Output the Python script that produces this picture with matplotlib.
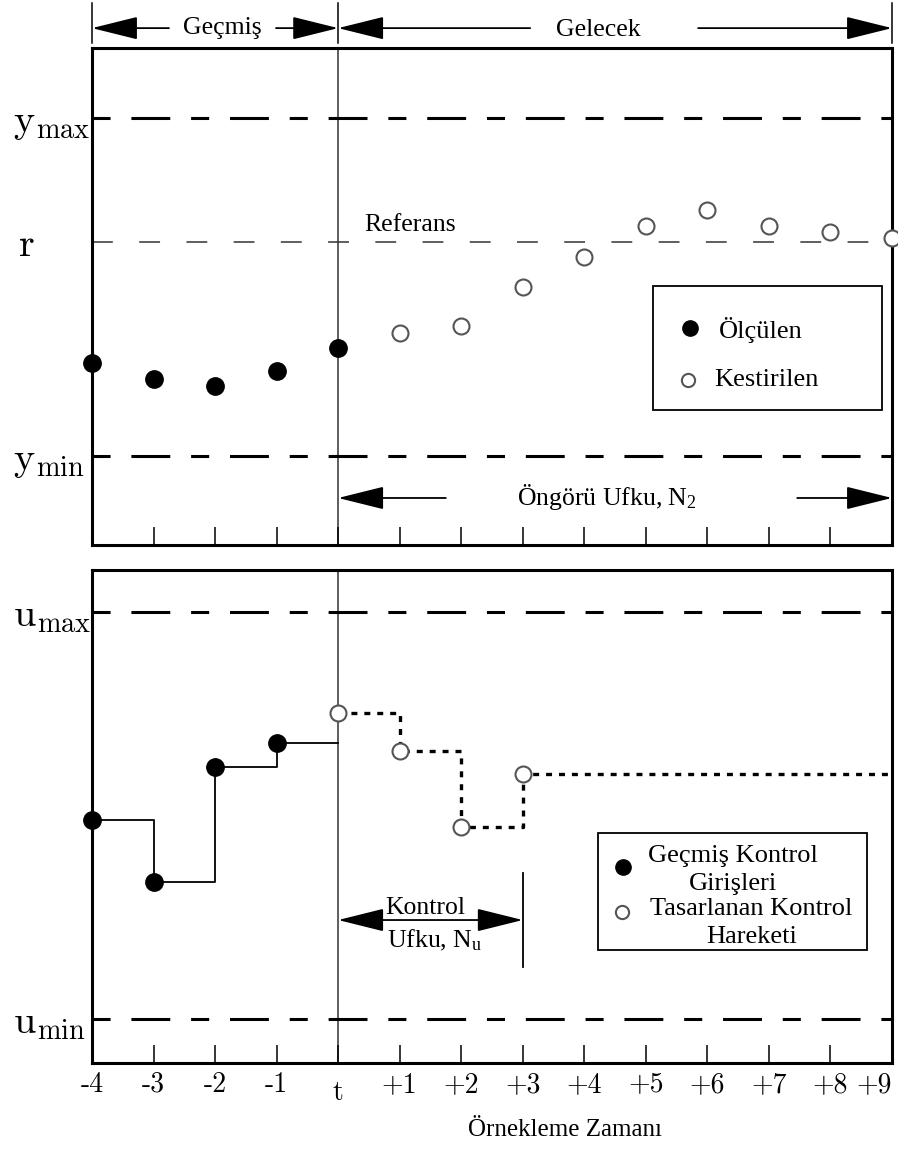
import matplotlib
matplotlib.use('Agg')
import matplotlib.pyplot as plt
from matplotlib.patches import Rectangle
from matplotlib.lines import Line2D

plt.rcParams['font.family'] = ['Liberation Serif', 'DejaVu Serif']
plt.rcParams['mathtext.fontset'] = 'custom'
plt.rcParams['mathtext.rm'] = 'Liberation Serif'
plt.rcParams['mathtext.it'] = 'Liberation Serif:italic'
plt.rcParams['mathtext.bf'] = 'Liberation Serif:bold'
plt.rcParams['lines.scale_dashes'] = False

# ---------------- data ----------------
time_steps = list(range(-4, 10))
tick_labels = ['-4', '-3', '-2', '-1', 't', '+1', '+2', '+3', '+4', '+5', '+6', '+7', '+8', '+9']

y_max, y_ref, y_min = 8.59, 6.10, 1.79
meas_k = [-4, -3, -2, -1, 0]
meas_y = [3.66, 3.34, 3.20, 3.50, 3.96]
pred_k = [1, 2, 3, 4, 5, 6, 7, 8, 9]
pred_y = [4.27, 4.41, 5.19, 5.79, 6.42, 6.74, 6.42, 6.30, 6.18]

u_max, u_min = 9.15, 0.89
past_k = [-4, -3, -2, -1]
past_u = [4.93, 3.67, 6.00, 6.49]
plan_k = [0, 1, 2, 3]
plan_u = [7.10, 6.33, 4.79, 5.86]
control_horizon = 3

# ---------------- figure ----------------
W, H = 898, 1151
fig = plt.figure(figsize=(W / 100, H / 100), dpi=100)


def frect(l, t, r, b):
    return [l / W, 1 - b / H, (r - l) / W, (b - t) / H]


def fx(px):
    return px / W


def fy(py):
    return 1 - py / H


ax1 = fig.add_axes(frect(92, 48, 892, 545))
ax2 = fig.add_axes(frect(92, 570, 892, 1063))

x0, x1 = time_steps[0], time_steps[-1]
for ax in (ax1, ax2):
    ax.set_xlim(x0, x1)
    ax.set_ylim(0, 10)
    for s in ax.spines.values():
        s.set_linewidth(2.2)
        s.set_zorder(3)
    ax.set_xticks(time_steps)
    ax.tick_params(axis='x', direction='in', length=13, width=1.1, pad=6)
    ax.tick_params(axis='y', length=0, pad=57)
    ax.axvline(0, color='#333333', lw=1.1, zorder=1)

ax1.tick_params(axis='x', labelbottom=False)
ax2.set_xticklabels([('' if l == 't' else l) for l in tick_labels],
                    fontfamily='cmr10', fontsize=20)
xt = ax2.get_xticklabels()
xt[-1].set_horizontalalignment('right')
xt[-1].set_x(x1 + 0.05)
ax2.text(0, -(1093 - 1063) / 493, 't', transform=ax2.get_xaxis_transform(),
         ha='center', va='center', fontfamily='cmr10', fontsize=20)

ax1.set_yticks([y_min, y_ref, y_max],
               [r'$\mathrm{y}_{\mathrm{min}}$', r'$\mathrm{r}$', r'$\mathrm{y}_{\mathrm{max}}$'],
               math_fontfamily='cm', fontsize=29, ha='left')
ax2.set_yticks([u_min, u_max],
               [r'$\mathrm{u}_{\mathrm{min}}$', r'$\mathrm{u}_{\mathrm{max}}$'],
               math_fontfamily='cm', fontsize=29, ha='left')
for lbl in ax1.get_yticklabels():
    if lbl.get_text() == r'$\mathrm{r}$':
        lbl.set_x(0.007)

thick_dash = (0, (13, 15, 28, 15))
ax1.axhline(y_max, color='k', lw=2.2, ls=thick_dash, zorder=2)
ax1.axhline(y_min, color='k', lw=2.2, ls=thick_dash, zorder=2)
ax1.axhline(y_ref, color='#333333', lw=1.1, ls=(0, (15, 19)), zorder=2)
ax2.axhline(u_max, color='k', lw=2.2, ls=thick_dash, zorder=2)
ax2.axhline(u_min, color='k', lw=2.2, ls=thick_dash, zorder=2)

# ---- top: outputs ----
ax1.plot(meas_k, meas_y, ls='none', marker='o', ms=12.5, color='k', clip_on=False, zorder=5)
ax1.plot(pred_k, pred_y, ls='none', marker='o', ms=11.5, mfc='white', mec='#555555',
         mew=1.5, clip_on=False, zorder=5)
ax1.text(1.17, y_ref + 0.33, 'Referans', ha='center', va='center', fontsize=18.5)

# ---- bottom: inputs ----
ax2.step(past_k + [0], past_u + [past_u[-1]], where='post', color='k', lw=1.3, zorder=3)
ax2.plot(past_k, past_u, ls='none', marker='o', ms=12.5, color='k', clip_on=False, zorder=5)
ax2.step(plan_k + [x1], plan_u + [plan_u[-1]], where='post', color='k', lw=2.4,
         ls=(0, (4.3, 5.0)), zorder=3)
ax2.plot(plan_k, plan_u, ls='none', marker='o', ms=11.5, mfc='white', mec='#555555',
         mew=1.5, clip_on=False, zorder=5)

# ---- arrows ----
AS = '-|>,head_length=2.9,head_width=0.72'


def harrow(ax, x_tail, x_tip, yfrac, style=AS):
    ax.annotate('', xy=(x_tip, yfrac), xytext=(x_tail, yfrac),
                xycoords=ax.get_xaxis_transform(), textcoords=ax.get_xaxis_transform(),
                arrowprops=dict(arrowstyle=style, mutation_scale=10, lw=1.3, color='k',
                                shrinkA=0, shrinkB=0),
                annotation_clip=False)


# past / future header
for xv in (x0, 0, x1):
    ax1.plot([xv, xv], [1.010, 1.0905], transform=ax1.get_xaxis_transform(),
             clip_on=False, color='k', lw=1.1)
harrow(ax1, -2.75, x0, 1.040)
harrow(ax1, -1.01, 0, 1.040)
ax1.text(-1.89, 1.040, 'Geçmiş', transform=ax1.get_xaxis_transform(), ha='center',
         va='center', fontsize=18.5)
harrow(ax1, 3.12, 0, 1.040)
harrow(ax1, 5.85, x1, 1.040)
ax1.text(4.22, 1.036, 'Gelecek', transform=ax1.get_xaxis_transform(), ha='center',
         va='center', fontsize=18.5)

# prediction horizon
harrow(ax1, 1.75, 0, 0.0946)
harrow(ax1, 7.46, x1, 0.0946)
ax1.text(4.37, 0.097, r'Öngörü Ufku, $\mathrm{N}_2$', transform=ax1.get_xaxis_transform(),
         ha='center', va='center', fontsize=18.5)

# control horizon
harrow(ax2, 0, control_horizon, 0.290, style='<|-|>,head_length=2.9,head_width=0.72')
ax2.plot([control_horizon, control_horizon], [0.195, 0.385],
         transform=ax2.get_xaxis_transform(), color='k', lw=1.3)
ax2.text(1.41, 0.314, 'Kontrol', transform=ax2.get_xaxis_transform(), ha='center',
         va='center', fontsize=18.5)
ax2.text(1.56, 0.249, r'Ufku, $\mathrm{N}_\mathrm{u}$', transform=ax2.get_xaxis_transform(),
         ha='center', va='center', fontsize=18.5)

# ---- legends (manual boxes) ----
fig.add_artist(Rectangle((fx(653), fy(410)), (882 - 653) / W, (410 - 286) / H,
                         transform=fig.transFigure, fill=False, lw=1.3, ec='k'))
fig.add_artist(Line2D([fx(690)], [fy(328)], marker='o', ms=11, color='k', ls='none',
                      transform=fig.transFigure))
fig.add_artist(Line2D([fx(688)], [fy(380)], marker='o', ms=9.5, mfc='white', mec='#555555',
                      mew=1.5, ls='none', transform=fig.transFigure))
fig.text(fx(719), fy(330), 'Ölçülen', va='center', fontsize=19)
fig.text(fx(714), fy(380), 'Kestirilen', va='center', fontsize=19)

fig.add_artist(Rectangle((fx(598), fy(950)), (867 - 598) / W, (950 - 833) / H,
                         transform=fig.transFigure, fill=False, lw=1.3, ec='k'))
fig.add_artist(Line2D([fx(623)], [fy(867)], marker='o', ms=11, color='k', ls='none',
                      transform=fig.transFigure))
fig.add_artist(Line2D([fx(622)], [fy(912)], marker='o', ms=9.5, mfc='white', mec='#555555',
                      mew=1.5, ls='none', transform=fig.transFigure))
fig.text(fx(648), fy(870), 'Geçmiş Kontrol\nGirişleri', va='center', ha='left',
         multialignment='center', linespacing=1.4, fontsize=19)
fig.text(fx(650), fy(923), 'Tasarlanan Kontrol\nHareketi', va='center', ha='left',
         multialignment='center', linespacing=1.4, fontsize=19)

fig.text(fx(565), fy(1130), 'Örnekleme Zamanı', ha='center', va='center', fontsize=18)

fig.savefig('out.png', dpi=100)
